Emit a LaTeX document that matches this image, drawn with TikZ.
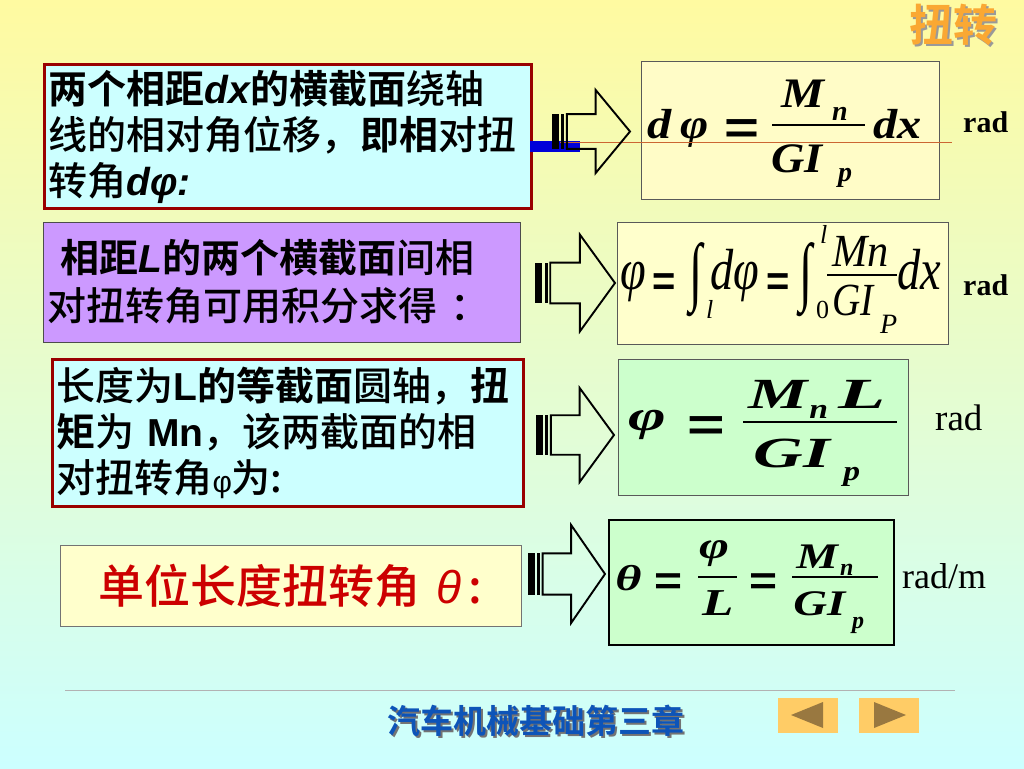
\documentclass[tikz,border=0pt]{standalone}
\usepackage{fontspec}
\usetikzlibrary{positioning}
\newfontfamily\cjk[UprightFont={* Medium},BoldFont={* Bold}]{Noto Sans CJK SC}
\newfontfamily\lat{Liberation Sans}
\newfontfamily\fml{Liberation Serif}
\definecolor{bgtop}{rgb}{1,0.98,0.63}
\definecolor{bgmid}{rgb}{0.9,1,0.8}
\definecolor{bgbot}{rgb}{0.8,1,1}
\definecolor{boxred}{rgb}{0.6,0,0}
\definecolor{paleblue}{rgb}{0.8,1,1}
\definecolor{lilac}{rgb}{0.8,0.6,1}
\definecolor{paleyellow}{rgb}{1,1,0.8}
\definecolor{creamy}{rgb}{1,0.99,0.78}
\definecolor{palegreen}{rgb}{0.8,1,0.8}
\definecolor{unitred}{rgb}{0.8,0,0}
\definecolor{navblue}{rgb}{0.05,0.33,0.72}
\definecolor{btnorange}{rgb}{1,0.8,0.4}
\definecolor{btnbrown}{rgb}{0.6,0.47,0.25}
\definecolor{titleorange}{rgb}{0.98,0.66,0.2}
\definecolor{hairline}{rgb}{0.8,0.4,0.2}
\newcommand\shadowed[3]{\rlap{\kern#1\raisebox{-#1}{\textcolor{#2}{#3}}}#3}

\begin{document}
\begin{tikzpicture}[x=1pt,y=-1pt,
    txt/.style={draw, anchor=north west, align=left, inner xsep=4pt, inner ysep=0pt,
      font=\cjk\fontsize{39}{46}\selectfont},
    redbox/.style={txt, draw=boxred, line width=3pt, fill=paleblue},
    eqbox/.style={draw=black!65, line width=0.8pt, anchor=north west, inner sep=0pt},
    bi/.style={anchor=base west, inner sep=0pt, font=\fml\bfseries\itshape\fontsize{#1}{#1}\selectfont},
    ri/.style={anchor=base west, inner sep=0pt, font=\fml\itshape\fontsize{#1}{#1}\selectfont},
    eqsign/.style={anchor=base west, inner sep=0pt, font=\lat\bfseries\fontsize{#1}{#1}\selectfont},
    intsign/.style={inner sep=0pt, xscale=0.85, yscale=1.35, font=\fml\bfseries\fontsize{56}{56}\selectfont},
    fracbar/.style={line width=2.4pt},
    unit/.style={anchor=base west, inner sep=0pt, font=\fml\fontsize{#1}{#1}\selectfont},
    btn/.style={fill=btnorange, minimum width=60pt, minimum height=35pt, inner sep=0pt}]
  \useasboundingbox (0,0) rectangle (1024,768);
  \shade[top color=bgtop, middle color=bgmid, bottom color=bgbot] (0,0) rectangle (1024,768);

  % title
  \node [font=\cjk\bfseries\fontsize{44}{44}\selectfont, text=titleorange] (title) at (953,26)
    {\shadowed{2pt}{black!40}{扭转}};

  % left column
  \node [redbox, text width=479pt, minimum height=144pt] (dxbox) at (43,63) {%
    {\bfseries 两个相距{\lat\itshape dx}的横截面}绕轴\\
    线的相对角位移，{\bfseries 即相}对扭\\
    转角{\lat\bfseries\itshape dφ:}};
  \node [txt, draw=black!70, fill=lilac, text width=469pt, minimum height=120pt,
    font=\cjk\fontsize{39}{48}\selectfont] (Lbox) at (43,222) {%
    \ {\bfseries 相距{\lat\itshape L}的两个横截面}间相\\
    对扭转角可用积分求得\,\,：};
  \node [redbox, text width=463pt, minimum height=147pt] (shaftbox) at (51,358) {%
    长度为{\bfseries {\lat L}的等截面}圆轴，{\bfseries 扭}\\
    {\bfseries 矩}为 {\lat\bfseries Mn}，该两截面的相\\
    对扭转角{\lat\fontsize{30}{30}\selectfont φ}为:};
  \node [txt, draw=black!55, fill=paleyellow, text width=453pt, minimum height=81pt,
    align=center, text=unitred, font=\cjk\fontsize{46}{50}\selectfont] (thetabox) at (60,545)
    {单位长度扭转角 {\lat\itshape θ}\,:};

  % formula boxes
  \fill [blue!85!black] (530,141) rectangle (580,152);
  \node [eqbox, fill=creamy, minimum width=298pt, minimum height=138pt] (dphibox) at (641,61) {};
  \node [eqbox, fill=paleyellow, minimum width=331pt, minimum height=122pt] (intbox) at (617,222) {};
  \node [eqbox, fill=palegreen, minimum width=290pt, minimum height=136pt] (totbox) at (618,359) {};
  \node [eqbox, draw=black, line width=2pt, fill=palegreen, minimum width=285pt,
    minimum height=125pt] (thetaeqbox) at (608,519) {};

  % d phi = Mn / GIp dx
  \node [bi=42, xscale=1.15] (f1d) at (647,138) {d};
  \node [bi=42, xscale=1.15] (f1phi) at (680,138) {φ};
  \node [eqsign=46, xscale=1.3] (f1eq) at (724,143) {=};
  \draw [fracbar] (772,125) -- (865,125);
  \node [bi=42, xscale=1.15] (f1M) at (781,107) {M};
  \node [bi=28] (f1n) at (832,120) {n};
  \node [bi=42, xscale=1.1] (f1GI) at (771,172) {GI};
  \node [bi=28] (f1p) at (838,181) {p};
  \node [bi=42, xscale=1.15] (f1dx) at (873,138) {dx};
  \draw [hairline, line width=0.7pt] (560,142) -- (952,142);

  % phi = int dphi = int Mn / GIP dx
  \node [ri=58, xscale=0.8] (f2phi) at (620,289) {φ};
  \node [eqsign=42, xscale=0.95] (f2eq) at (652,295) {=};
  \node [intsign] (f2int) at (696,280) {∫};
  \node [ri=26] (f2l) at (706,318) {l};
  \node [ri=58, xscale=0.8] (f2dphi) at (710,289) {dφ};
  \node [eqsign=42, xscale=0.95] (f2eqb) at (766,295) {=};
  \node [intsign] (f2intb) at (806,280) {∫};
  \node [unit=26] (f2zero) at (816,318) {0};
  \node [ri=26] (f2top) at (820,243) {l};
  \node [ri=46, xscale=0.92] (f2Mn) at (832,266) {Mn};
  \draw [line width=1.6pt] (827,275) -- (897,275);
  \node [ri=46, xscale=0.85] (f2GI) at (832,315) {GI};
  \node [ri=28] (f2P) at (880,333) {P};
  \node [ri=58, xscale=0.8] (f2dx) at (897,289) {dx};

  % phi = Mn L / GIp
  \node [bi=43, xscale=1.5] (f3phi) at (628,430) {φ};
  \node [eqsign=46, xscale=1.4] (f3eq) at (687,440) {=};
  \draw [fracbar] (743,422) -- (897,422);
  \node [bi=43, xscale=1.55] (f3M) at (748,408) {M};
  \node [bi=28, xscale=1.2] (f3n) at (809,418) {n};
  \node [bi=43, xscale=1.8] (f3L) at (838,408) {L};
  \node [bi=43, xscale=1.6] (f3GI) at (753,467) {GI};
  \node [bi=28, xscale=1.2] (f3p) at (843,480) {p};

  % theta = phi / L = Mn / GIp
  \node [bi=36, xscale=1.4] (f4theta) at (615,590) {θ};
  \node [eqsign=40, xscale=1.2] (f4eq) at (654,594) {=};
  \node [bi=38, xscale=1.35] (f4phi) at (699,558) {φ};
  \draw [line width=2pt] (698,577) -- (737,577);
  \node [bi=38, xscale=1.35] (f4L) at (702,615) {L};
  \node [eqsign=40, xscale=1.2] (f4eqb) at (749,594) {=};
  \node [bi=36, xscale=1.3] (f4M) at (796,568) {M};
  \node [bi=24] (f4n) at (840,575) {n};
  \draw [line width=2pt] (792,577) -- (878,577);
  \node [bi=36, xscale=1.3] (f4GI) at (793,615) {GI};
  \node [bi=24] (f4p) at (852,628) {p};

  % units
  \node [unit=30, font=\fml\bfseries\fontsize{30}{30}\selectfont] (u1) at (963,132) {rad};
  \node [unit=30, font=\fml\bfseries\fontsize{30}{30}\selectfont] (u2) at (963,295) {rad};
  \node [unit=37] (u3) at (935,430) {rad};
  \node [unit=36] (u4) at (902,588) {rad/m};

  % striped arrows
  \foreach \ax/\ay/\aw/\ah in {552/131.5/78/83, 535/283/80/97, 536/435/78/94, 528/574/77/98}
  {
    \begin{scope}[shift={(\ax,\ay)}, xscale=\aw, yscale=\ah]
      \fill (0,-0.21) rectangle (0.09,0.21);
      \fill (0.12,-0.21) rectangle (0.16,0.21);
      \draw [line width=1.9pt, line join=miter] (0.19,-0.21) -- (0.56,-0.21) -- (0.56,-0.5)
        -- (1,0) -- (0.56,0.5) -- (0.56,0.21) -- (0.19,0.21) -- cycle;
    \end{scope}
  }

  % footer
  \draw [black!30, line width=0.8pt] (65,690) -- (955,690);
  \node [font=\cjk\bfseries\fontsize{33}{33}\selectfont, text=navblue] (chapter) at (536,722)
    {\shadowed{2pt}{black!55}{汽车机械基础第三章}};
  \node [btn] (prev) at (808,715) {};
  \node [btn] (next) at (889,715) {};
  \fill [btnbrown] ([xshift=-17pt]prev.center) -- ([xshift=15pt,yshift=13pt]prev.center)
    -- ([xshift=15pt,yshift=-13pt]prev.center) -- cycle;
  \fill [btnbrown] ([xshift=17pt]next.center) -- ([xshift=-15pt,yshift=13pt]next.center)
    -- ([xshift=-15pt,yshift=-13pt]next.center) -- cycle;
\end{tikzpicture}
\end{document}
